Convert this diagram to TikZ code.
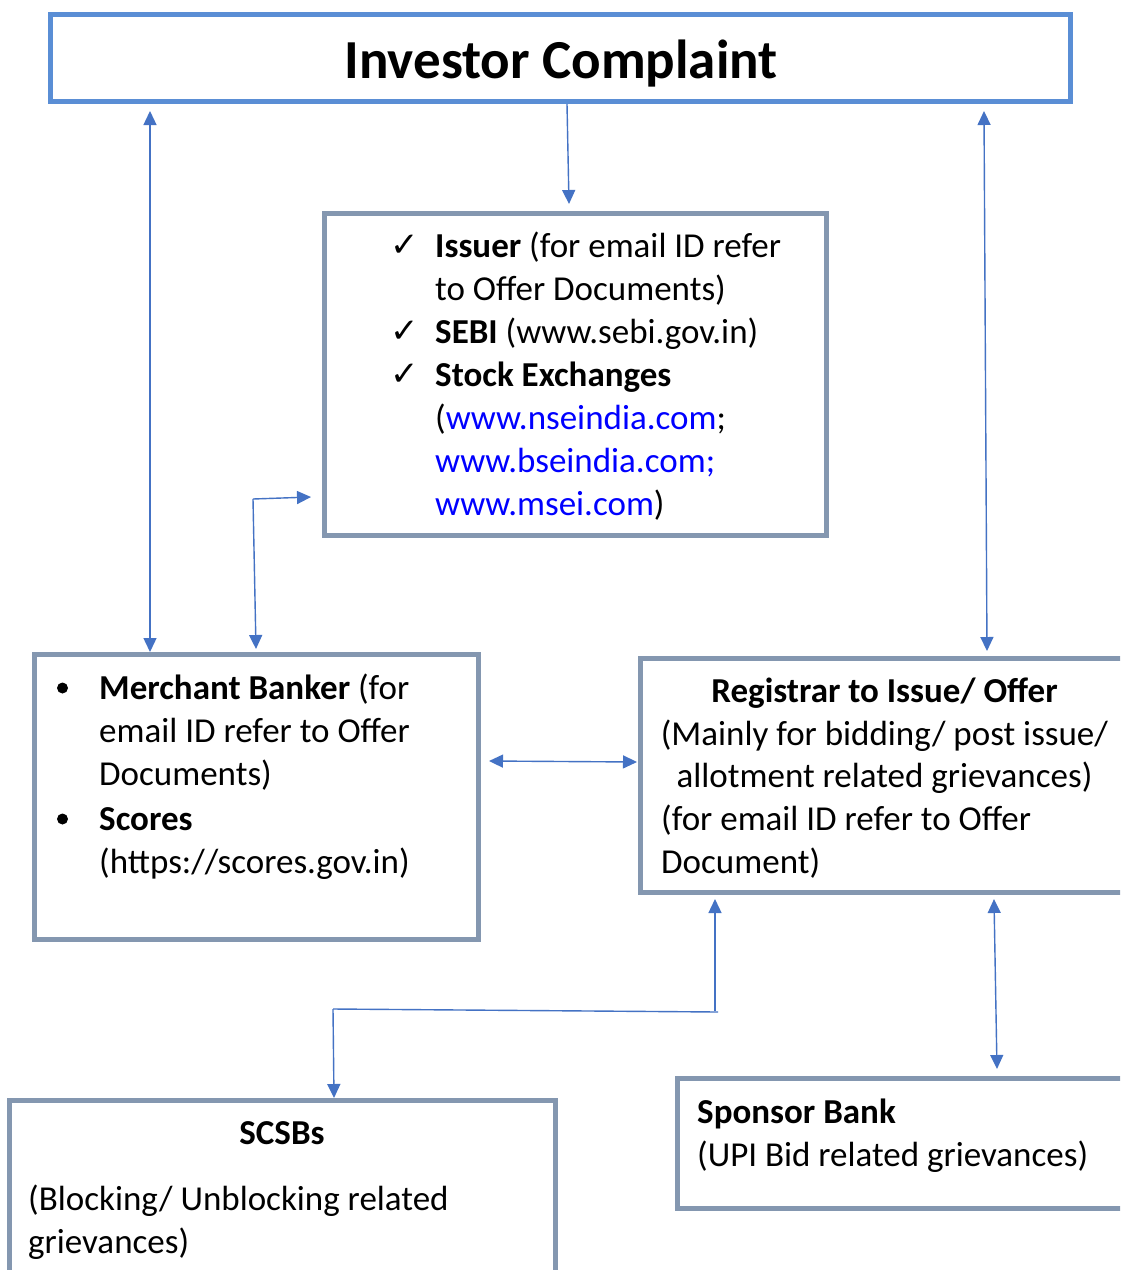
\documentclass[tikz,border=0pt]{standalone}
\usepackage{fontspec}
\setmainfont{Carlito}
\newfontfamily\djv{DejaVu Sans}
\usetikzlibrary{arrows.meta,calc}
\definecolor{topblue}{HTML}{5A8ED5}
\definecolor{boxgray}{HTML}{8497B0}
\definecolor{arrblue}{HTML}{4472C4}
\definecolor{linkblue}{HTML}{0000FF}
\begin{document}
\begin{tikzpicture}[x=1pt,y=-1pt,
  tbox/.style={draw=topblue,line width=5pt,inner sep=0pt,outer sep=0pt,anchor=north west},
  gbox/.style={draw=boxgray,line width=5pt,inner sep=0pt,outer sep=0pt,anchor=north west},
  txt/.style={font=\fontsize{35}{43}\selectfont,inner sep=0pt,anchor=base west},
  ctxt/.style={font=\fontsize{35}{43}\selectfont,inner sep=0pt,anchor=base},
  chk/.style={font=\fontsize{34}{36}\djv,inner sep=0pt,anchor=base west},
  conn/.style={draw=arrblue,line width=1.4pt},
  tip/.style={-{Triangle[length=14pt,width=13pt]}},
  dtip/.style={{Triangle[length=14pt,width=13pt]}-{Triangle[length=14pt,width=13pt]}}
]
\clip (0,0) rectangle (1120,1270);
\useasboundingbox (0,0) rectangle (1120,1270);
\fill[white] (0,0) rectangle (1120,1270);

% boxes
\node[tbox,minimum width=1020pt,minimum height=87pt] (top) at (50.5,14.5) {};
\node[gbox,minimum width=502pt,minimum height=322pt] (issuer) at (324.5,213.5) {};
\node[gbox,minimum width=444pt,minimum height=285pt] (merchant) at (34.5,654.5) {};
\node[gbox,minimum width=500pt,minimum height=234pt] (registrar) at (640.5,658.5) {};
\node[gbox,minimum width=546pt,minimum height=200pt] (scsb) at (9.5,1100.5) {};
\node[gbox,minimum width=470pt,minimum height=130pt] (sponsor) at (677.5,1078.5) {};

% title
\node[font=\fontsize{55}{60}\selectfont\bfseries,inner sep=0pt,anchor=base] (title) at (561,78) {Investor Complaint};

% issuer text
\node[chk] (c1) at (390,256) {✓};
\node[chk] (c2) at (390,342) {✓};
\node[chk] (c3) at (390,385) {✓};
\node[txt] (i1) at (435,257) {\textbf{Issuer} (for email ID refer};
\node[txt] (i2) at (435,300) {to Offer Documents)};
\node[txt] (i3) at (435,343) {\textbf{SEBI} (www.sebi.gov.in)};
\node[txt] (i4) at (435,386) {\textbf{Stock Exchanges}};
\node[txt] (i5) at (435,429) {(\textcolor{linkblue}{www.nseindia.com};};
\node[txt] (i6) at (435,472) {\textcolor{linkblue}{www.bseindia.com;}};
\node[txt] (i7) at (435,515) {\textcolor{linkblue}{www.msei.com})};

% merchant text
\fill (62.5,688) circle (5.5pt);
\fill (62.5,819) circle (5.5pt);
\node[txt] (m1) at (99,699) {\textbf{Merchant Banker} (for};
\node[txt] (m2) at (99,742) {email ID refer to Offer};
\node[txt] (m3) at (99,785) {Documents)};
\node[txt] (m4) at (99,830) {\textbf{Scores}};
\node[txt] (m5) at (99,873) {(https://scores.gov.in)};

% registrar text
\node[ctxt] (r1) at (884.5,702) {\textbf{Registrar to Issue/ Offer}};
\node[ctxt] (r2) at (884.5,745) {(Mainly for bidding/ post issue/};
\node[ctxt] (r3) at (884.5,787) {allotment related grievances)};
\node[txt] (r4) at (661,830) {(for email ID refer to Offer};
\node[txt] (r5) at (661,873) {Document)};

% scsb text
\node[ctxt] (s1) at (282,1144) {\textbf{SCSBs}};
\node[txt] (s2) at (28,1210) {(Blocking/ Unblocking related};
\node[txt] (s3) at (28,1253) {grievances)};

% sponsor text
\node[txt] (p1) at (697,1123) {\textbf{Sponsor Bank}};
\node[txt] (p2) at (697,1166) {(UPI Bid related grievances)};

% connector coordinates
\coordinate (aL1) at (150,111);
\coordinate (aL2) at (150,652);
\coordinate (aM1) at (567,104);
\coordinate (aM2) at (569,204);
\coordinate (aR1) at (984,111);
\coordinate (aR2) at (987,651);
\coordinate (elb) at (253,499);
\coordinate (elbR) at (311,497);
\coordinate (elbD) at (256,649);
\coordinate (hL) at (489,761);
\coordinate (hR) at (637,762);
\coordinate (rgUp) at (715,899);
\coordinate (rgK) at (715,1011);
\coordinate (rgE) at (718,1012);
\coordinate (scK) at (333,1009);
\coordinate (scD) at (334,1098);
\coordinate (spU) at (994,899);
\coordinate (spD) at (997,1069);

% connectors
\draw[conn,dtip] (aL1) -- (aL2);
\draw[conn,tip] (aM1) -- (aM2);
\draw[conn,dtip] (aR1) -- (aR2);
\draw[conn,tip] (elb) -- (elbR);
\draw[conn,tip] (elb) -- (elbD);
\draw[conn,dtip] (hL) -- (hR);
\draw[conn,tip] (rgK) -- (rgUp);
\draw[conn] (scK) -- (rgE);
\draw[conn,tip] (scK) -- (scD);
\draw[conn,dtip] (spU) -- (spD);
\end{tikzpicture}
\end{document}
